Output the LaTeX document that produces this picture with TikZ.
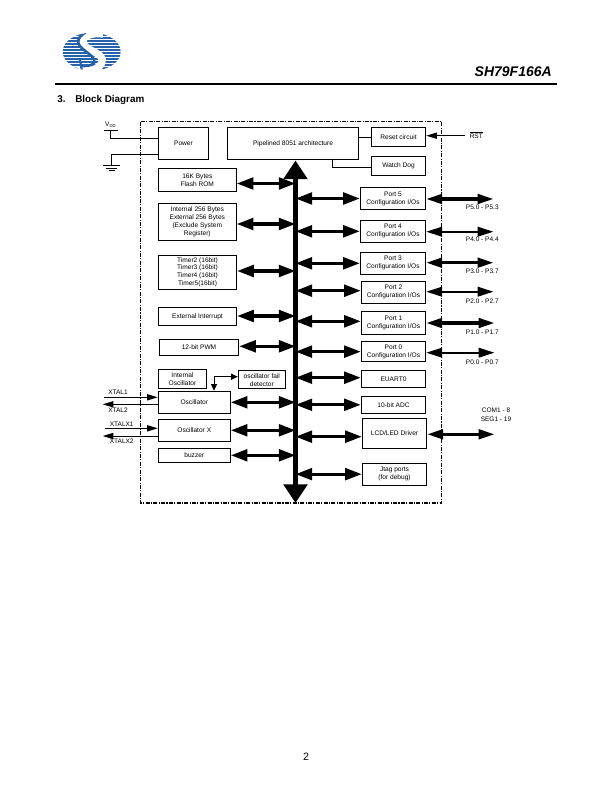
\documentclass[tikz,border=0pt]{standalone}
\usepackage{fontspec}
\setmainfont{Liberation Sans}
\usetikzlibrary{arrows.meta}
\definecolor{logoblue}{RGB}{38,98,172}
\tikzset{
	blockbox/.style={draw,line width=0.75pt,inner sep=0pt,align=center,font=\fontsize{4.95}{5.9}\selectfont},
	pinlabel/.style={inner sep=0pt,align=center,font=\fontsize{4.9}{6.7}\selectfont},
	wire/.style={line width=0.75pt},
	busarrow/.style={<->,>={Triangle[length=12.5pt,width=8.8pt]},line width=2.3pt},
	pinbus/.style={<->,>={Triangle[length=12pt,width=7.2pt]},line width=2.3pt},
	thinpinbus/.style={<->,>={Triangle[length=12pt,width=7.2pt]},line width=1.6pt},
	mainbus/.style={<->,>={Triangle[length=14pt,width=17.5pt]},line width=3.9pt},
	pinarrow/.style={wire,->,>={Triangle[length=8pt,width=4.6pt]}},
	smallarrow/.style={wire,<->,>={Triangle[length=5pt,width=4.5pt]}},
}
\begin{document}
\begin{tikzpicture}[x=0.75pt,y=0.75pt,yscale=-1,xscale=1]
	\useasboundingbox (0,0) rectangle (612,792);

	%Logo
	\begin{scope}
		\clip (91.7,51.7) ellipse (29 and 19);
		\draw [logoblue,line width=1.35pt] (60,35.2) -- (124,35.2) (60,38.2) -- (124,38.2)(60,41.2) -- (124,41.2)(60,44.2) -- (124,44.2)(60,47.2) -- (124,47.2)(60,50.2) -- (124,50.2)(60,53.2) -- (124,53.2)(60,56.2) -- (124,56.2)(60,59.2) -- (124,59.2)(60,62.2) -- (124,62.2)(60,65.2) -- (124,65.2)(60,68.2) -- (124,68.2);
		\draw [white,line width=5.5pt] (103,34) .. controls (90,32) and (78,38) .. (85,46) .. controls (91,52) and (104,54) .. (102,62) .. controls (100,69) and (90,72) .. (76,70);
		\draw [logoblue,line width=2pt] (86,32) .. controls (76,38) and (76,44) .. (84,50) .. controls (90,55) and (96,58) .. (94,63) .. controls (92,66) and (86,66) .. (80,66);
		\draw [logoblue,line width=1.6pt] (80,60) -- (82,71);
	\end{scope}

	%Header
	\coordinate (ruleleft) at (55,84);
	\coordinate (ruleright) at (557,84);
	\draw [line width=1.6pt] (ruleleft) -- (ruleright);
	\node (partname) [anchor=east,inner sep=0pt,font=\fontsize{10.5}{12}\selectfont\bfseries\itshape] at (552,71.5) {SH79F166A};
	\node (secnum) [anchor=west,inner sep=0pt,font=\fontsize{7.4}{9}\selectfont\bfseries] at (57,99.5) {3.};
	\node (sectitle) [anchor=west,inner sep=0pt,font=\fontsize{7.4}{9}\selectfont\bfseries] at (75,99.5) {Block Diagram};
	\node (pagenum) [inner sep=0pt,font=\fontsize{8}{10}\selectfont] at (306,757) {2};

	%Chip outline
	\draw [line width=0.8pt,dash pattern=on 3pt off 1pt on 0.8pt off 1pt] (140.5,121.5) rectangle (441.7,503);

	% Left blocks
	\node (power) [blockbox,minimum width=37.8pt,minimum height=24.5pt] at (183.5,143.65) {Power};
	\node (core) [blockbox,minimum width=98.55pt,minimum height=24.5pt] at (293,143.65) {Pipelined 8051 architecture};
	\node (flash) [blockbox,minimum width=58.5pt,minimum height=17.25pt] at (197.3,179.8) {16K Bytes\\Flash ROM};
	\node (ram) [blockbox,minimum width=58.5pt,minimum height=27.75pt] at (197.3,221.8) {Internal 256 Bytes\\External 256 Bytes\\(Exclude System\\Register)};
	\node (timer) [blockbox,minimum width=58.8pt,minimum height=25.7pt] at (197.5,272.15) {Timer2 (16bit)\\Timer3 (16bit)\\Timer4 (16bit)\\Timer5(16bit)};
	\node (extint) [blockbox,minimum width=58.8pt,minimum height=13.5pt] at (197.5,316.3) {External Interrupt};
	\node (pwm) [blockbox,minimum width=59.55pt,minimum height=12pt] at (199,347.3) {12-bit PWM};
	\node (intosc) [blockbox,minimum width=36.3pt,minimum height=14.25pt] at (182.5,378.8) {Internal\\Oscillator};
	\node (faildet) [blockbox,minimum width=35.25pt,minimum height=13.7pt] at (261.8,379.85) {oscillator fail\\detector};
	\node (osc) [blockbox,minimum width=54pt,minimum height=16.5pt] at (194.3,402.3) {Oscillator};
	\node (oscx) [blockbox,minimum width=54pt,minimum height=16.5pt] at (194.3,430.3) {Oscillator X};
	\node (buzzer) [blockbox,minimum width=54pt,minimum height=10.5pt] at (194.3,455.3) {buzzer};

	% Right blocks
	\node (reset) [blockbox,minimum width=40.8pt,minimum height=14.25pt] at (398.5,136.8) {Reset circuit};
	\node (dog) [blockbox,minimum width=40.8pt,minimum height=14.25pt] at (398.5,165.8) {Watch Dog};
	\node (port5) [blockbox,minimum width=49pt,minimum height=16.8pt] at (393,198.5) {Port 5\\Configuration I/Os};
	\node (port4) [blockbox,minimum width=49pt,minimum height=16.5pt] at (393,231.3) {Port 4\\Configuration I/Os};
	\node (port3) [blockbox,minimum width=49pt,minimum height=16.5pt] at (393,263.3) {Port 3\\Configuration I/Os};
	\node (port2) [blockbox,minimum width=48.3pt,minimum height=16.5pt] at (393.5,292.3) {Port 2\\Configuration I/Os};
	\node (port1) [blockbox,minimum width=48.3pt,minimum height=17.25pt] at (393.5,322.8) {Port 1\\Configuration I/Os};
	\node (port0) [blockbox,minimum width=48.3pt,minimum height=15.5pt] at (393.5,351.65) {Port 0\\Configuration I/Os};
	\node (euart) [blockbox,minimum width=48.3pt,minimum height=12.75pt] at (393.5,378.8) {EUART0};
	\node (adc) [blockbox,minimum width=48.3pt,minimum height=12.75pt] at (393.5,404.8) {10-bit ADC};
	\node (lcd) [blockbox,minimum width=48.3pt,minimum height=22.5pt] at (394.5,433.3) {LCD/LED Driver};
	\node (jtag) [blockbox,minimum width=48.3pt,minimum height=16.3pt] at (394.5,474.15) {Jtag ports\\(for debug)};

	%Main bus
	\coordinate (bustop) at (295.5,160.5);
	\coordinate (busbottom) at (295.5,503);
	\draw [mainbus] (bustop) -- (busbottom);

	%Bus arrows, left side
	\draw [busarrow] (flash.east |- 0,183.5) -- (bustop |- 0,183.5);
	\draw [busarrow] (ram.east |- 0,224) -- (bustop |- 0,224);
	\draw [busarrow] (timer.east |- 0,271) -- (bustop |- 0,271);
	\draw [busarrow] (extint.east |- 0,316) -- (bustop |- 0,316);
	\draw [busarrow] (pwm.east |- 0,346.3) -- (bustop |- 0,346.3);
	\draw [busarrow] (osc.east) -- (bustop |- osc.east);
	\draw [busarrow] (oscx.east) -- (bustop |- oscx.east);
	\draw [busarrow] (buzzer.east) -- (bustop |- buzzer.east);

	%Bus arrows, right side
	\draw [busarrow] (bustop |- port5.west) -- (port5.west);
	\draw [busarrow] (bustop |- port4.west) -- (port4.west);
	\draw [busarrow] (bustop |- port3.west) -- (port3.west);
	\draw [busarrow] (bustop |- 0,290.7) -- (port2.west |- 0,290.7);
	\draw [busarrow] (bustop |- 0,321.3) -- (port1.west |- 0,321.3);
	\draw [busarrow] (bustop |- port0.west) -- (port0.west);
	\draw [busarrow] (bustop |- 0,377.7) -- (euart.west |- 0,377.7);
	\draw [busarrow] (bustop |- adc.west) -- (adc.west);
	\draw [busarrow] (bustop |- 0,436.7) -- (lcd.west |- 0,436.7);
	\draw [busarrow] (bustop |- jtag.west) -- (jtag.west);

	%Port pins
	\coordinate (p5pin) at (493.5,199);
	\coordinate (p4pin) at (493.5,231.7);
	\coordinate (p3pin) at (493.5,262.7);
	\coordinate (p2pin) at (493.5,291.7);
	\coordinate (p1pin) at (494.5,323);
	\coordinate (p0pin) at (494.5,352.7);
	\coordinate (lcdpin) at (494.5,434.3);
	\draw [pinbus] (port5.east |- p5pin) -- (p5pin);
	\draw [thinpinbus] (port4.east |- p4pin) -- (p4pin);
	\draw [pinbus] (port3.east |- p3pin) -- (p3pin);
	\draw [thinpinbus] (port2.east |- p2pin) -- (p2pin);
	\draw [pinbus] (port1.east |- p1pin) -- (p1pin);
	\draw [thinpinbus] (port0.east |- p0pin) -- (p0pin);
	\draw [pinbus] (lcd.east |- lcdpin) -- (lcdpin);

	% Text Node
	\node (p5label) [pinlabel] at (482.3,207.7) {P5.0 - P5.3};
	\node (p4label) [pinlabel] at (482.3,239.3) {P4.0 - P4.4};
	\node (p3label) [pinlabel] at (482.3,271) {P3.0 - P3.7};
	\node (p2label) [pinlabel] at (482.3,301.7) {P2.0 - P2.7};
	\node (p1label) [pinlabel] at (482.3,332.3) {P1.0 - P1.7};
	\node (p0label) [pinlabel] at (482.3,362.3) {P0.0 - P0.7};
	\node (lcdlabel) [pinlabel] at (496,415.2) {COM1 - 8\\SEG1 - 19};

	%Power pins
	\node (vddlabel) [pinlabel] at (110.5,125) {V{\raisebox{-1pt}{\fontsize{3.2}{4}\selectfont DD}}};
	\coordinate (vddbar) at (110.7,130.7);
	\coordinate (gndbar) at (111.7,165.5);
	\draw [wire] (104,130.7) -- (117.7,130.7) (vddbar) |- (power.west |- 0,138.3);
	\draw [wire] (gndbar) |- (power.west |- 0,154.3);
	\draw [wire] (103,165.5) -- (120,165.5) (106,168) -- (117,168)(109,170.3) -- (114.5,170.3);

	%Reset and watch dog
	\coordinate (rstpin) at (465,135.7);
	\node (rstlabel) [pinlabel,anchor=west] at (469.5,135) {$\overline{\mbox{RST}}$};
	\draw [pinarrow] (rstpin) -- (reset.east |- rstpin);
	\draw [wire] (core.east |- 0,137.3) -- (reset.west |- 0,137.3);
	\draw [wire] (core.south -| 332.3,0) |- (dog.west |- 0,167.3);

	%Oscillator pins
	\coordinate (xtalone) at (104,397.3);
	\coordinate (xtaltwo) at (102.7,404.3);
	\coordinate (xtalxone) at (105,428.3);
	\coordinate (xtalxtwo) at (102.7,436);
	\draw [pinarrow] (xtalone) -- (osc.west |- xtalone);
	\draw [pinarrow] (osc.west |- xtaltwo) -- (xtaltwo);
	\draw [pinarrow] (xtalxone) -- (oscx.west |- xtalxone);
	\draw [pinarrow] (oscx.west |- xtalxtwo) -- (xtalxtwo);
	\node (xtalonelabel) [pinlabel] at (118,392.7) {XTAL1};
	\node (xtaltwolabel) [pinlabel] at (118,410.3) {XTAL2};
	\node (xtalxonelabel) [pinlabel] at (121.7,424.7) {XTALX1};
	\node (xtalxtwolabel) [pinlabel] at (121.7,441.7) {XTALX2};

	%Fail detector link
	\draw [smallarrow] (osc.north -| 214,0) |- (faildet.west |- 0,376.7);

\end{tikzpicture}
\end{document}
